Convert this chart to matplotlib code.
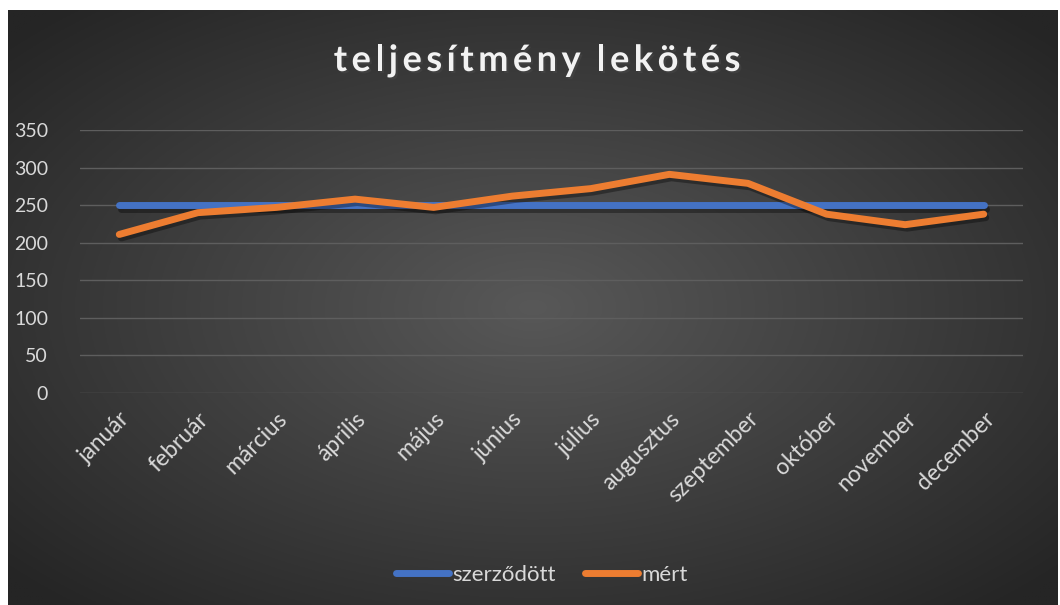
import numpy as np
import matplotlib.pyplot as plt
import matplotlib.patheffects as pe

plt.rcParams['font.family'] = ['Lato', 'DejaVu Sans']

MONTHS = ['január', 'február', 'március', 'április', 'május', 'június',
          'július', 'augusztus', 'szeptember', 'október', 'november', 'december']
CONTRACTED = [250, 250, 250, 250, 250, 250, 250, 250, 250, 250, 250, 250]
MEASURED = [211, 240, 247, 258, 247, 262, 272, 291, 279, 238, 224, 238]
Y_TICKS = [0, 50, 100, 150, 200, 250, 300, 350]
TITLE = 'teljesítmény lekötés'

W, H = 1060, 605
fig = plt.figure(figsize=(W / 100, H / 100), dpi=100, facecolor='white')

# dark radial gradient background (left/top white margin like the original)
bg = fig.add_axes([8 / W, 0, 1050 / W, 595 / H])
yy, xx = np.mgrid[-1:1:300j, -1:1:500j]
r = np.clip(np.sqrt(xx ** 2 + yy ** 2) / 1.35, 0, 1)
inner, outer = 0x58, 0x25
shade = (inner + (outer - inner) * r) / 255.0
bg.imshow(np.dstack([shade, shade, shade]), aspect='auto', extent=[0, 1, 0, 1])
bg.set_axis_off()

ax = fig.add_axes([80 / W, 1 - 393 / H, (1023 - 80) / W, (393 - 130) / H])
ax.set_facecolor('none')

x = np.arange(len(MONTHS))
shadow = [pe.SimpleLineShadow(offset=(1.5, -2.5), shadow_color='black', alpha=0.35), pe.Normal()]
ax.plot(x, CONTRACTED, color='#4472C4', lw=5, solid_capstyle='round',
        label='szerződött', path_effects=shadow, zorder=3)
ax.plot(x, MEASURED, color='#ED7D31', lw=5, solid_capstyle='round',
        solid_joinstyle='round', label='mért', path_effects=shadow, zorder=4)

ax.set_xlim(-0.5, len(MONTHS) - 0.5)
ax.set_ylim(0, 350)
ax.set_yticks(Y_TICKS)
ax.set_xticks(x)
ax.set_xticklabels(MONTHS, rotation=45, ha='right', rotation_mode='anchor')
ax.tick_params(axis='both', length=0, colors='#D9D9D9')
ax.tick_params(axis='y', pad=23, labelsize=14)
ax.tick_params(axis='x', pad=11, labelsize=16.5)
ax.grid(axis='y', color='#5E5E5E', lw=1)
ax.set_axisbelow(True)
for s in ax.spines.values():
    s.set_visible(False)

# title with wide letter spacing, drawn one character at a time
renderer = fig.canvas.get_renderer()
title_kw = dict(fontsize=26, fontweight='bold', color='#F2F2F2', va='baseline', ha='left',
                path_effects=[pe.withSimplePatchShadow(offset=(1.5, -1.5), alpha=0.5)])
tracking = 4.5
widths = []
for ch in TITLE:
    if ch == ' ':
        widths.append(7.0)
        continue
    t = fig.text(0, 0, ch, **title_kw)
    widths.append(t.get_window_extent(renderer).width)
    t.remove()
total = sum(widths) + tracking * (len(TITLE) - 1)
xpos = 537 - total / 2
for ch, w in zip(TITLE, widths):
    if ch != ' ':
        fig.text(xpos / W, 1 - 71 / H, ch, **title_kw)
    xpos += w + tracking

leg = fig.legend(loc='center', bbox_to_anchor=(542 / W, 1 - 575 / H), ncol=2,
                 frameon=False, fontsize=16, labelcolor='#D9D9D9',
                 handlelength=2.4, handletextpad=0.15, columnspacing=1.3)
for h in leg.get_lines():
    h.set_path_effects([])
    h.set_linewidth(5)

fig.savefig('out.png', dpi=100, facecolor='white')
